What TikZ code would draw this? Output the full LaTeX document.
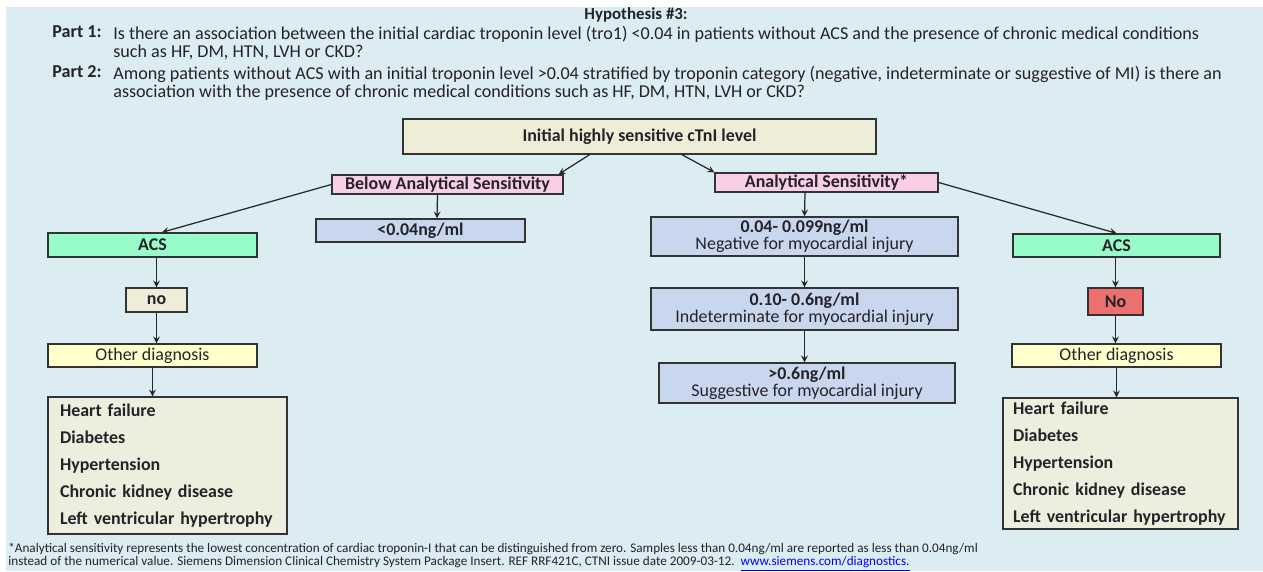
\documentclass[tikz,border=0pt]{standalone}
\usepackage{fontspec}
\setmainfont{Carlito}
\usepackage{xcolor}
\usetikzlibrary{positioning}
\usetikzlibrary{calc}
\definecolor{mback}{RGB}{219,236,243}
\definecolor{mbeige}{RGB}{237,237,216}
\definecolor{mpink}{RGB}{249,206,231}
\definecolor{mlav}{RGB}{200,214,238}
\definecolor{mgreen}{RGB}{152,252,202}
\definecolor{myellow}{RGB}{255,255,204}
\definecolor{mlist}{RGB}{236,239,221}
\definecolor{mred}{RGB}{236,112,112}
\definecolor{mtext}{RGB}{35,35,40}

\begin{document}
\begin{tikzpicture}[x=0.02cm, y=-0.02cm,
    box/.style={draw=black!80, line width=0.8pt, inner xsep=2pt, inner ysep=0.5pt, align=center, text=mtext, font=\fontsize{10.2}{9.6}\selectfont\bfseries},
    start/.style={box, fill=mbeige},
    branch/.style={box, fill=mpink},
    level/.style={box, fill=mlav, font=\fontsize{10.2}{9.6}\selectfont},
    acs/.style={box, fill=mgreen},
    answer/.style={box, fill=mbeige},
    other/.style={box, fill=myellow, font=\fontsize{10.2}{9.6}\selectfont},
    cond/.style={box, fill=mlist, align=left, text width=4.3cm, font=\fontsize{10.2}{15.4}\selectfont\bfseries},
    head/.style={text=mtext, inner sep=0pt, align=left, font=\fontsize{10.3}{10.2}\selectfont},
    arrow/.style={-stealth, line width=0.7pt, black!85},
]

    \useasboundingbox (0,0) rectangle (1263,571);
    \fill[mback] (6,7) rectangle (1263,571);

    \node[head, font=\fontsize{9.6}{10.2}\selectfont\bfseries] (title) at (636,15) {Hypothesis \#3:};
    \node[head, anchor=west, font=\fontsize{10.3}{10.2}\selectfont\bfseries] (p1) at (52,32) {Part 1:};
    \node[head, anchor=north west] (p1text) at (113,26) {Is there an association between the initial cardiac troponin level (tro1) <0.04 in patients without ACS and the presence of chronic medical conditions\\such as HF, DM, HTN, LVH or CKD?};
    \node[head, anchor=west, font=\fontsize{10.3}{10.2}\selectfont\bfseries] (p2) at (52,72) {Part 2:};
    \node[head, anchor=north west] (p2text) at (113,66) {Among patients without ACS with an initial troponin level >0.04 stratified by troponin category (negative, indeterminate or suggestive of MI) is there an\\association with the presence of chronic medical conditions such as HF, DM, HTN, LVH or CKD?};

    \node[start, minimum width=9.46cm, minimum height=0.70cm] (top) at (639.5,136.5) {Initial highly sensitive cTnI level};
    \node[branch, minimum width=4.62cm, minimum height=0.38cm] (below) at (447.5,184.5) {Below Analytical Sensitivity};
    \node[branch, minimum width=4.46cm, minimum height=0.38cm] (anal) at (826.5,182.5) {Analytical Sensitivity*};

    \node[level, font=\fontsize{10.2}{9.6}\selectfont\bfseries, minimum width=4.18cm, minimum height=0.46cm] (lt) at (420.5,230.5) {<0.04ng/ml};
    \node[level, minimum width=6.14cm, minimum height=0.78cm] (neg) at (804.5,236.5) {\textbf{0.04- 0.099ng/ml}\\Negative for myocardial injury};
    \node[level, minimum width=6.14cm, minimum height=0.84cm] (ind) at (804.5,309) {\textbf{0.10- 0.6ng/ml}\\Indeterminate for myocardial injury};
    \node[level, minimum width=5.92cm, minimum height=0.80cm] (sug) at (807,383) {\textbf{>0.6ng/ml}\\Suggestive for myocardial injury};

    \node[acs, minimum width=4.18cm, minimum height=0.48cm] (acsL) at (152.5,245) {ACS};
    \node[answer, minimum width=1.22cm, minimum height=0.48cm] (noL) at (156.5,300) {no};
    \node[other, minimum width=4.18cm, minimum height=0.46cm] (othL) at (152.5,355.5) {Other diagnosis};
    \node[cond, minimum width=4.78cm, minimum height=2.74cm] (listL) at (167.5,465.5) {Heart failure\\Diabetes\\Hypertension\\Chronic kidney disease\\Left ventricular hypertrophy};

    \node[acs, minimum width=4.14cm, minimum height=0.46cm] (acsR) at (1116.5,245.5) {ACS};
    \node[answer, fill=mred, minimum width=1.10cm, minimum height=0.54cm] (noR) at (1115.5,301.5) {No};
    \node[other, minimum width=4.18cm, minimum height=0.46cm] (othR) at (1116.5,355.5) {Other diagnosis};
    \node[cond, minimum width=4.70cm, minimum height=2.62cm] (listR) at (1120.5,463.5) {Heart failure\\Diabetes\\Hypertension\\Chronic kidney disease\\Left ventricular hypertrophy};

    \draw[arrow] ([xshift=-1cm]top.south) -- ([xshift=-0.1cm]below.north east);
    \draw[arrow] ([xshift=0.85cm]top.south) -- (anal.north west);
    \draw[arrow] ([xshift=-0.2cm]below.south) -- ([xshift=0.33cm]lt.north);
    \draw[arrow] ([xshift=-0.43cm]anal.south) -- (neg.north);
    \draw[arrow] (neg.south) -- (ind.north);
    \draw[arrow] (ind.south) -- (ind.south |- sug.north);

    \draw[arrow] (below.west) -- ([xshift=0.19cm]acsL.north);
    \draw[arrow] (noL.north |- acsL.south) -- (noL.north);
    \draw[arrow] (noL.south) -- (noL.south |- othL.north);
    \draw[arrow] (othL.south) -- (othL.south |- listL.north);

    \draw[arrow] (anal.east) -- (acsR.north);
    \draw[arrow] (acsR.south -| noR) -- (noR.north);
    \draw[arrow] (noR.south) -- (noR.south |- othR.north);
    \draw[arrow] (othR.south) -- (othR.south |- listR.north);

    \node[head, anchor=west, font=\fontsize{7.5}{7.6}\selectfont] (note) at (8,557) {*Analytical sensitivity represents the lowest concentration of cardiac troponin-I that can be distinguished from zero. Samples less than 0.04ng/ml are reported as less than 0.04ng/ml\\instead of the numerical value. Siemens Dimension Clinical Chemistry System Package Insert. REF RRF421C, CTNI issue date 2009-03-12.\ \ \textcolor{blue}{\underline{www.siemens.com/diagnostics.}}};

\end{tikzpicture}
\end{document}
